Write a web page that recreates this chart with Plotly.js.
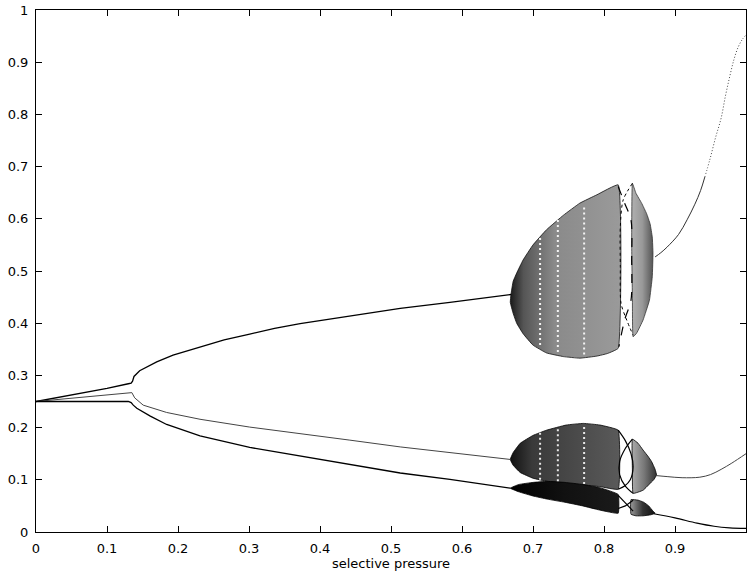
<!DOCTYPE html>
<html>
<head>
<meta charset="utf-8">
<script src="https://cdn.plot.ly/plotly-3.0.1.min.js"></script>
<style>html,body{margin:0;padding:0;background:#fff;}#chart{width:747px;height:574px;}</style>
</head>
<body>
<div id="chart"></div>
<script>
// ---- tick labels ----
var tickVals = [0,0.1,0.2,0.3,0.4,0.5,0.6,0.7,0.8,0.9,1];
var tickText = ['0','0.1','0.2','0.3','0.4','0.5','0.6','0.7','0.8','0.9','1'];

// ---- stable branches before chaos ----
var upperX = [0,0.05,0.10,0.130,0.134,0.136,0.138,0.146,0.170,0.193,0.231,0.265,0.301,0.336,0.372,0.442,0.513,0.583,0.654,0.669];
var upperY = [0.25,0.2625,0.275,0.284,0.285,0.289,0.298,0.309,0.326,0.339,0.355,0.368,0.379,0.390,0.399,0.414,0.4285,0.440,0.452,0.455];
var middleX = [0,0.05,0.10,0.130,0.135,0.139,0.151,0.184,0.231,0.301,0.372,0.442,0.513,0.583,0.625,0.654,0.668];
var middleY = [0.25,0.2565,0.263,0.267,0.267,0.257,0.243,0.229,0.216,0.201,0.189,0.176,0.163,0.152,0.145,0.141,0.139];
var lowerX = [0,0.130,0.134,0.137,0.142,0.161,0.184,0.231,0.301,0.372,0.442,0.513,0.583,0.625,0.668];
var lowerY = [0.25,0.250,0.248,0.243,0.237,0.222,0.206,0.184,0.162,0.146,0.129,0.113,0.101,0.092,0.084];

// ---- branches after chaos ----
var upperRX = [0.872,0.880,0.889,0.905,0.917,0.928,0.936,0.942];
var upperRY = [0.527,0.535,0.546,0.570,0.598,0.628,0.654,0.680];
var upperRdX = [0.942,0.949,0.957,0.965,0.971,0.977,0.983,0.989,0.995,1.0];
var upperRdY = [0.680,0.713,0.755,0.793,0.835,0.872,0.905,0.929,0.944,0.952];
var middleRX = [0.874,0.89,0.91,0.935,0.95,0.965,0.98,1.0];
var middleRY = [0.108,0.106,0.104,0.105,0.110,0.120,0.132,0.150];
var lowerRX = [0.870,0.9,0.931,0.955,0.977,1.0];
var lowerRY = [0.035,0.027,0.017,0.011,0.008,0.007];

// ---- chaotic band outlines ----
var upBlobAX = [0.669,0.672,0.677,0.686,0.700,0.719,0.743,0.766,0.790,0.820,0.820,0.805,0.790,0.766,0.743,0.719,0.700,0.686,0.677,0.672,0.668,0.669];
var upBlobAY = [0.455,0.480,0.496,0.521,0.550,0.579,0.607,0.630,0.646,0.665,0.352,0.342,0.337,0.333,0.336,0.343,0.358,0.380,0.400,0.419,0.440,0.455];
var upBlobBX = [0.840,0.845,0.853,0.860,0.865,0.868,0.869,0.868,0.864,0.855,0.846,0.841,0.840,0.839,0.840];
var upBlobBY = [0.668,0.649,0.630,0.610,0.590,0.565,0.534,0.489,0.444,0.406,0.381,0.374,0.450,0.550,0.668];
var midBlobAX = [0.668,0.672,0.682,0.700,0.719,0.747,0.771,0.794,0.820,0.820,0.794,0.770,0.745,0.720,0.700,0.682,0.672,0.668];
var midBlobAY = [0.139,0.152,0.170,0.185,0.195,0.205,0.208,0.205,0.195,0.082,0.087,0.090,0.093,0.097,0.103,0.114,0.128,0.139];
var lowBlobAX = [0.668,0.680,0.700,0.720,0.745,0.770,0.794,0.820,0.820,0.794,0.770,0.745,0.720,0.700,0.680,0.668];
var lowBlobAY = [0.084,0.091,0.095,0.097,0.095,0.091,0.085,0.072,0.036,0.042,0.050,0.057,0.063,0.069,0.077,0.084];
var midBlobBX = [0.840,0.848,0.855,0.862,0.867,0.872,0.874,0.870,0.867,0.855,0.841,0.840,0.840];
var midBlobBY = [0.178,0.170,0.157,0.145,0.135,0.120,0.109,0.100,0.096,0.080,0.074,0.120,0.178];
var lowBlobBX = [0.838,0.848,0.856,0.863,0.869,0.872,0.866,0.855,0.845,0.838,0.838];
var lowBlobBY = [0.062,0.061,0.057,0.050,0.040,0.036,0.033,0.031,0.031,0.034,0.062];

// ---- period-doubled orbits crossing the gap ----
var gapUpPX = [0.840,0.827,0.823,0.823,0.824,0.832,0.841];
var gapUpPY = [0.668,0.636,0.585,0.508,0.438,0.406,0.377];
var gapUpQX = [0.820,0.829,0.838,0.839,0.838,0.829,0.821];
var gapUpQY = [0.662,0.630,0.598,0.521,0.444,0.406,0.355];
var gapMidPX = [0.840,0.830,0.822,0.822,0.830,0.841];
var gapMidPY = [0.178,0.160,0.135,0.110,0.088,0.074];
var gapMidQX = [0.820,0.830,0.838,0.841,0.837,0.829,0.820];
var gapMidQY = [0.195,0.175,0.150,0.125,0.100,0.088,0.082];
var gapLowPX = [0.820,0.830,0.841];
var gapLowPY = [0.070,0.055,0.040];
var gapLowQX = [0.820,0.830,0.841];
var gapLowQY = [0.045,0.050,0.061];

// ---- periodic windows inside the chaotic bands ----
var windowX = [0.710,0.735,0.772];
var windowUpLo = [0.358,0.345,0.340];
var windowUpHi = [0.565,0.600,0.625];
var windowMidLo = [0.100,0.097,0.092];
var windowMidHi = [0.192,0.200,0.205];

function line(x,y,color,width,dash,smooth){
  var ln = {color:color,width:width,dash:dash||'solid'};
  if(smooth){ln.shape='spline';ln.smoothing=smooth;}
  return {x:x,y:y,type:'scatter',mode:'lines',hoverinfo:'skip',line:ln};
}
function blob(x,y,scale,edge){
  return {x:x,y:y,type:'scatter',mode:'lines',fill:'toself',hoverinfo:'skip',
    fillgradient:{type:'horizontal',colorscale:scale},
    fillcolor:scale[Math.floor(scale.length/2)][1],
    line:{color:edge,width:0.8,shape:'spline',smoothing:0.3}};
}
function windows(xs,lo,hi,col,w){
  var x=[],y=[];
  for(var i=0;i<xs.length;i++){x.push(xs[i],xs[i],null);y.push(lo[i],hi[i],null);}
  return {x:x,y:y,type:'scatter',mode:'lines',hoverinfo:'skip',
    line:{color:col,width:w,dash:'2px,3px'}};
}

var traces = [
  blob(upBlobAX,upBlobAY,[[0,'#1a1a1a'],[0.12,'#555'],[0.4,'#8a8a8a'],[1,'#9a9a9a']],'#111'),
  blob(upBlobBX,upBlobBY,[[0,'#b0b0b0'],[0.5,'#999'],[1,'#555']],'#333'),
  blob(midBlobAX,midBlobAY,[[0,'#111'],[0.2,'#3a3a3a'],[1,'#5a5a5a']],'#000'),
  blob(midBlobBX,midBlobBY,[[0,'#aaa'],[0.5,'#777'],[1,'#333']],'#000'),
  blob(lowBlobAX,lowBlobAY,[[0,'#000'],[0.5,'#111'],[1,'#1a1a1a']],'#000'),
  blob(lowBlobBX,lowBlobBY,[[0,'#999'],[0.5,'#333'],[1,'#111']],'#000'),
  windows(windowX,windowUpLo,windowUpHi,'#f4f4f4',2),
  windows(windowX,windowMidLo,windowMidHi,'#e8e8e8',2),
  line(gapUpPX,gapUpPY,'#000',1,'dot',0.8),
  line(gapUpQX,gapUpQY,'#000',1.2,'dash',0.8),
  line(gapMidPX,gapMidPY,'#000',1.2,'solid',0.8),
  line(gapMidQX,gapMidQY,'#000',1.2,'solid',0.8),
  line(gapLowPX,gapLowPY,'#000',1.2),
  line(gapLowQX,gapLowQY,'#000',1.2),
  line(upperX,upperY,'#000',1.3),
  line(middleX,middleY,'#444',1),
  line(lowerX,lowerY,'#000',1.3),
  line(upperRX,upperRY,'#333',1,'solid',1),
  line(upperRdX,upperRdY,'#444',1,'1px,2px',1),
  line(middleRX,middleRY,'#444',1,'solid',1),
  line(lowerRX,lowerRY,'#000',1.2,'solid',1)
];

var axisBase = {
  range:[0,1], tickmode:'array', tickvals:tickVals, ticktext:tickText,
  ticks:'inside', ticklen:6, tickwidth:1, tickcolor:'#000',
  showline:true, linecolor:'#000', linewidth:1, mirror:'ticks',
  showgrid:false, zeroline:false, fixedrange:true
};
var xaxis = Object.assign({}, axisBase, {ticklabelstandoff:4, title:{text:'selective pressure', standoff:2, font:{size:13}}});
var yaxis = Object.assign({}, axisBase, {ticklabelstandoff:4});

var layout = {
  width:747, height:574,
  margin:{l:36,r:1,t:10,b:42,pad:0},
  paper_bgcolor:'#fff', plot_bgcolor:'#fff',
  showlegend:false,
  font:{family:'DejaVu Sans, Liberation Sans, sans-serif', size:13, color:'#000'},
  xaxis:xaxis, yaxis:yaxis
};

Plotly.newPlot('chart', traces, layout, {staticPlot:true, displayModeBar:false});
</script>
</body>
</html>
